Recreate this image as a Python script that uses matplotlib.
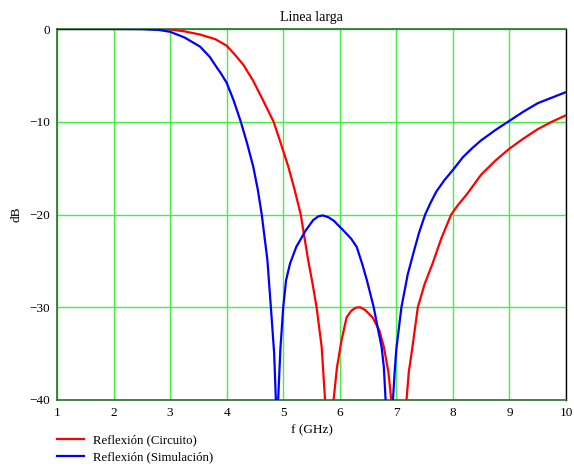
import matplotlib
matplotlib.use("Agg")
import matplotlib.pyplot as plt

# ── Data ─────────────────────────────────────────────────────────────────────

f_circuito = [1.0, 2.0, 2.5, 2.8, 3.0, 3.25, 3.53, 3.8, 4.0, 4.15, 4.3, 4.47,
              4.64, 4.83, 4.95, 5.09, 5.2, 5.31, 5.44, 5.52, 5.59, 5.68,
              5.74, 5.78, 5.85, 5.89, 5.95, 6.03, 6.12, 6.2, 6.28, 6.36,
              6.45, 6.58, 6.7, 6.78, 6.86, 6.91, 6.96, 7.12, 7.18, 7.22,
              7.28, 7.38, 7.5, 7.64, 7.8, 7.97, 8.1, 8.25, 8.5, 8.75, 9.0,
              9.25, 9.5, 9.75, 10.0]
r_circuito = [0.0, 0.0, 0.0, -0.02, -0.05, -0.25, -0.6, -1.1, -1.8, -2.8,
              -3.9, -5.6, -7.65, -10.0, -12.2, -14.85, -17.3, -20.0, -24.9,
              -27.5, -30.0, -34.3, -40.0, -48.0, -48.0, -40.0, -36.5, -33.6,
              -31.1, -30.4, -30.05, -30.0, -30.3, -31.1, -32.5, -34.3, -37.0,
              -40.0, -48.0, -48.0, -40.0, -37.0, -34.5, -30.0, -27.5, -25.3,
              -22.5, -20.0, -18.9, -17.8, -15.7, -14.2, -12.9, -11.8, -10.8,
              -10.0, -9.3]

f_simulacion = [1.0, 2.0, 2.5, 2.8, 3.0, 3.25, 3.53, 3.7, 3.82, 3.9, 4.0,
                4.12, 4.25, 4.36, 4.47, 4.55, 4.62, 4.72, 4.79, 4.84, 4.87,
                4.89, 4.91, 4.95, 5.0, 5.05, 5.12, 5.23, 5.4, 5.53, 5.62,
                5.7, 5.8, 5.9, 6.06, 6.2, 6.3, 6.4, 6.48, 6.6, 6.68,
                6.74, 6.78, 6.81, 6.87, 6.94, 6.97, 7.0, 7.09, 7.2, 7.3, 7.4,
                7.51, 7.6, 7.71, 7.85, 8.0, 8.18, 8.35, 8.5, 8.75, 9.0, 9.25,
                9.5, 9.75, 10.0]
r_simulacion = [0.0, 0.0, -0.02, -0.1, -0.3, -0.9, -1.9, -3.0, -4.1, -4.8,
                -5.8, -7.65, -10.0, -12.3, -14.85, -17.3, -20.0, -24.9, -30.7,
                -35.0, -40.0, -48.0, -40.0, -34.5, -30.0, -27.1, -25.3, -23.5,
                -21.7, -20.6, -20.2, -20.1, -20.3, -20.7, -21.7, -22.6, -23.5,
                -25.4, -27.1, -30.0, -32.5, -34.3, -36.5, -40.0, -48.0, -40.0,
                -37.0, -34.5, -30.0, -26.5, -24.2, -22.0, -20.0, -18.8, -17.5,
                -16.3, -15.2, -13.8, -12.8, -12.0, -10.9, -9.9, -8.9, -8.0,
                -7.4, -6.8]

x_ticks = [1, 2, 3, 4, 5, 6, 7, 8, 9, 10]
y_ticks = [0, -10, -20, -30, -40]

# ── Figure ───────────────────────────────────────────────────────────────────

plt.rcParams["font.family"] = ["Liberation Serif", "DejaVu Serif"]
plt.rcParams["font.size"] = 9.5

fig = plt.figure(figsize=(5.74, 4.66), dpi=100)
ax = fig.add_axes([57 / 574, 1 - 400 / 466, 509 / 574, 371 / 466])

ax.plot(f_circuito, r_circuito, color="#ff0000", linewidth=1.6,
        label="Reflexión (Circuito)", zorder=3)
ax.plot(f_simulacion, r_simulacion, color="#0000ff", linewidth=1.6,
        label="Reflexión (Simulación)", zorder=4)

ax.set_xlim(1, 10)
ax.set_ylim(-40, 0)
ax.set_xticks(x_ticks)
ax.set_yticks(y_ticks)
ax.tick_params(length=0, pad=5)
ax.grid(True, color="#44ee44", linewidth=1.0)
ax.set_axisbelow(True)

for side in ["left", "bottom", "top"]:
    ax.spines[side].set_color("#2f6a2f")
    ax.spines[side].set_linewidth(1.2)
ax.spines["right"].set_color("black")
ax.spines["right"].set_linewidth(1.0)

ax.set_title("Linea larga", fontsize=10, pad=6)
ax.set_xlabel("f (GHz)", labelpad=4)
ax.set_ylabel("dB", labelpad=5)

fig.legend(loc="upper left", bbox_to_anchor=(57 / 574, 1 - 434 / 466),
           frameon=False, fontsize=9.2, handlelength=2.1, handletextpad=0.7,
           labelspacing=0.45, borderpad=0, borderaxespad=0)

fig.savefig("out.png", dpi=100)
